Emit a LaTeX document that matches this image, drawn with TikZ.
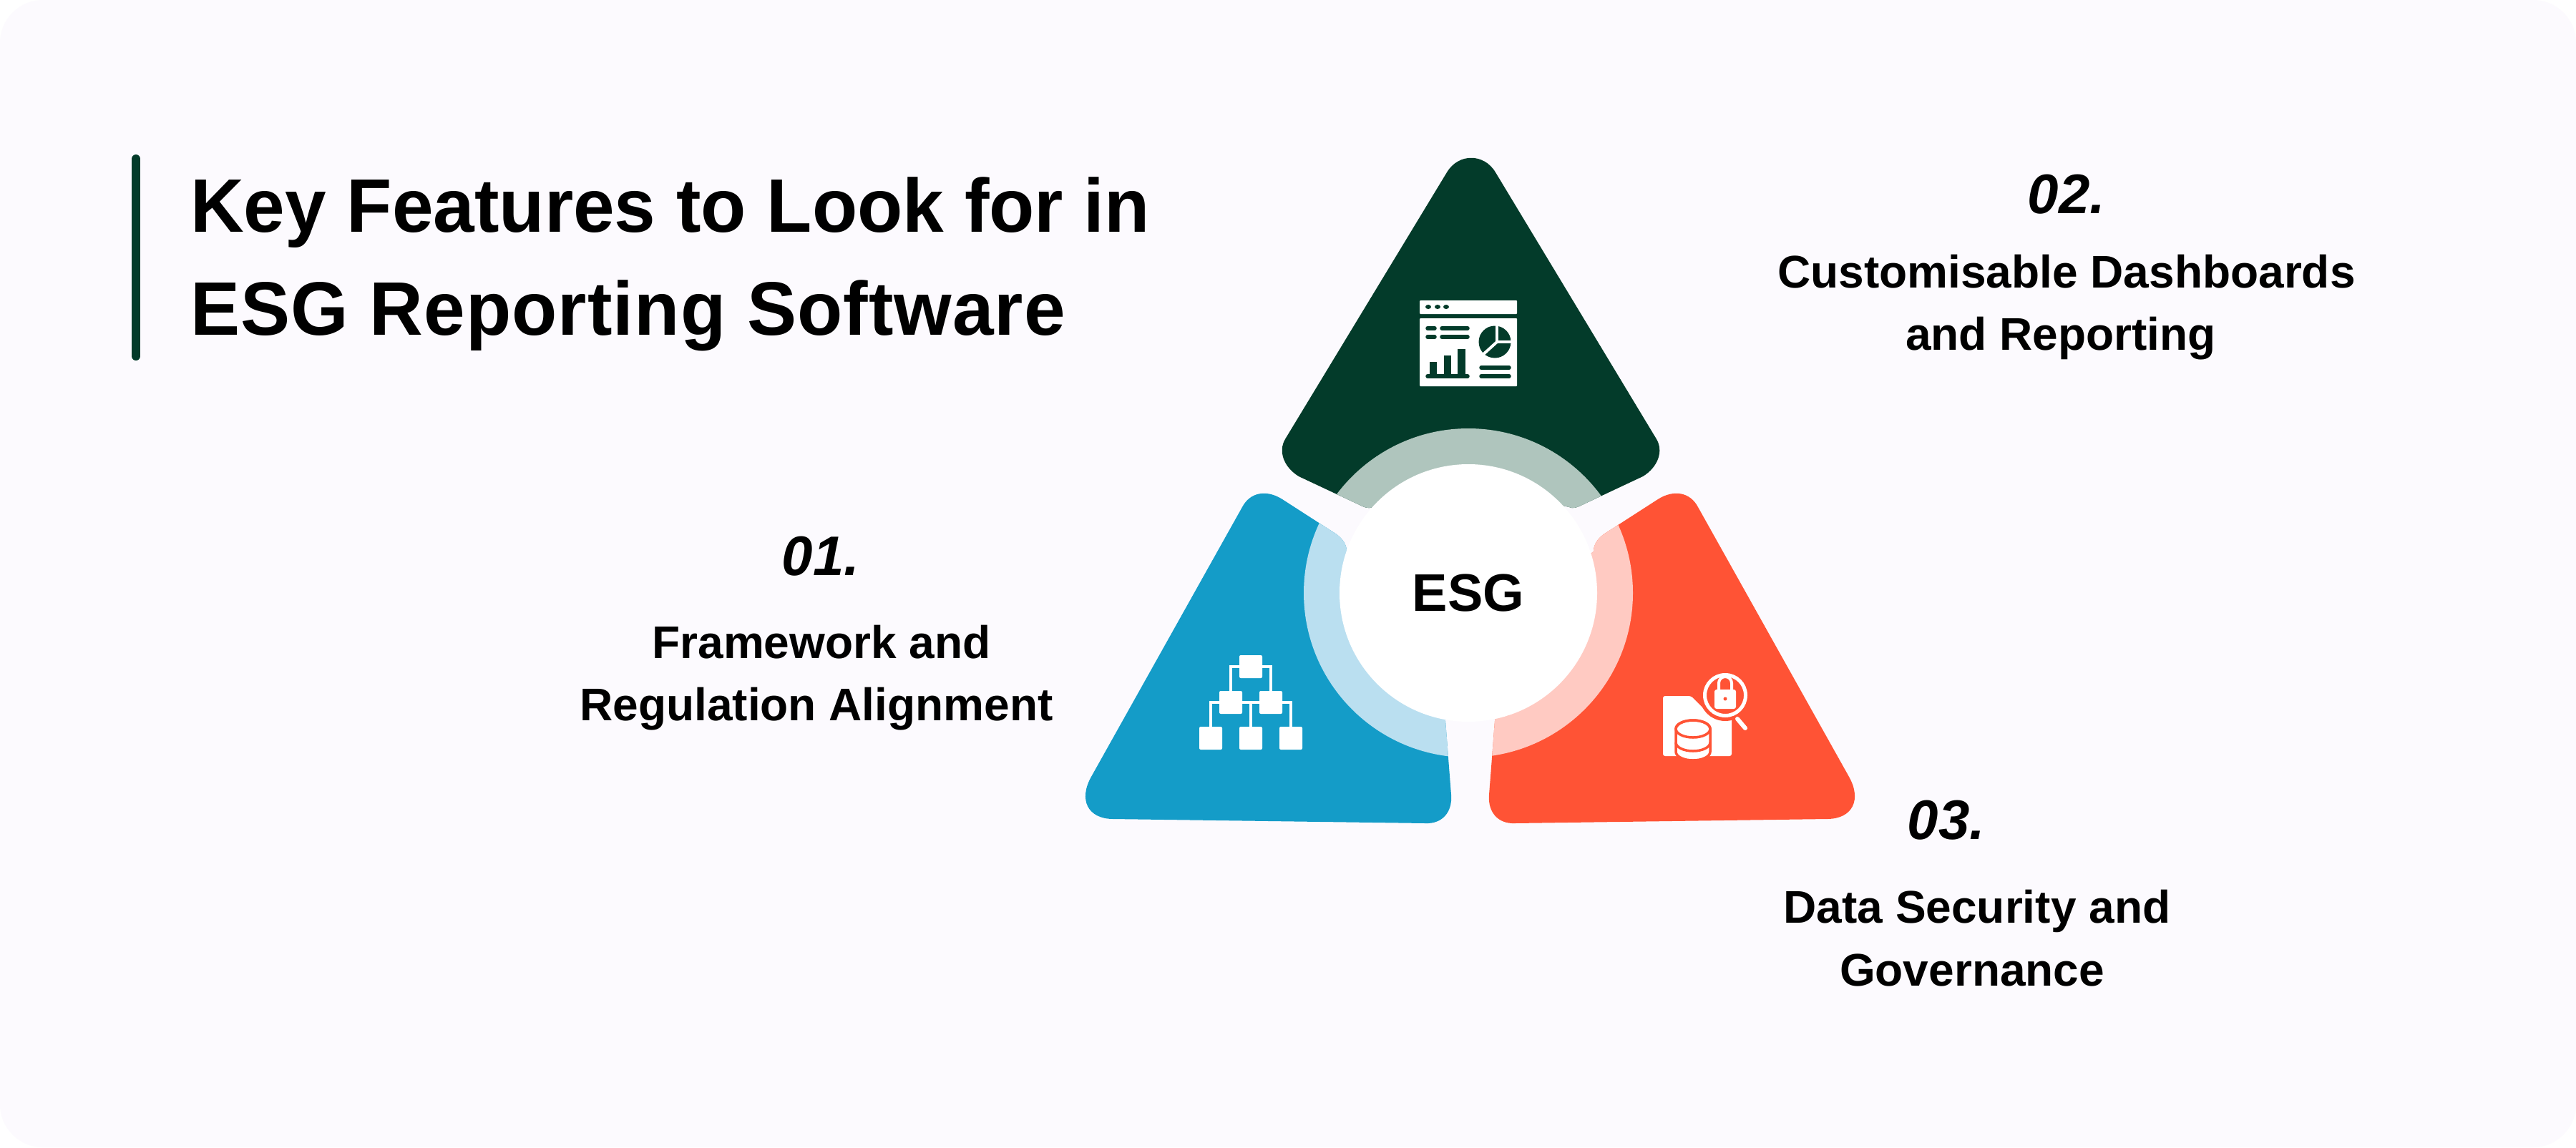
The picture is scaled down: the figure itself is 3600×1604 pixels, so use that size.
\documentclass[tikz,border=0pt]{standalone}
\usepackage{fontspec}
\setmainfont{Liberation Sans}
\newfontfamily\headfont[FakeStretch=0.977]{Liberation Sans}
\definecolor{pagebg}{HTML}{FCFAFE}
\definecolor{esggreen}{HTML}{033B2A}
\definecolor{esgblue}{HTML}{149CC8}
\definecolor{esgred}{HTML}{FF5335}
\definecolor{ringgreen}{HTML}{AFC5BD}
\definecolor{ringblue}{HTML}{BADFF0}
\definecolor{ringred}{HTML}{FFCAC2}
\def\greenpath{(2022,241) .. controls (2038,214) and (2074,214) .. (2090,241) -- (2315,614) .. controls (2325,631) and (2317,653) .. (2296,666) -- (2213,705) .. controls (2205,709) and (2198,712) .. (2193,709) -- (2155,700) -- (1950,700) -- (1918,709) .. controls (1913,712) and (1906,709) .. (1898,705) -- (1815,666) .. controls (1794,653) and (1786,631) .. (1796,614) -- cycle}
\def\bluepath{(1736,709) .. controls (1747,688) and (1770,684) .. (1792,698) -- (1868,747) .. controls (1876,753) and (1882,761) .. (1882,771) -- (1920,800) -- (2000,1000) -- (2016,1003) .. controls (2019,1004) and (2020,1005) .. (2020,1008) -- (2028,1111) .. controls (2030,1136) and (2015,1152) .. (1992,1151) -- (1555,1145) .. controls (1520,1144.5) and (1507,1118) .. (1525,1086) -- cycle}
\def\redpath{(2373,709) .. controls (2362,688) and (2339,684) .. (2317,698) -- (2241,747) .. controls (2233,753) and (2227,761) .. (2227,771) -- (2189,800) -- (2109,1000) -- (2093,1003) .. controls (2090,1004) and (2089,1005) .. (2089,1008) -- (2081,1111) .. controls (2079,1136) and (2094,1152) .. (2117,1151) -- (2554,1145) .. controls (2589,1144.5) and (2602,1118) .. (2584,1086) -- cycle}
\tikzset{
  titletext/.style={anchor=base west,inner sep=0pt,font=\headfont\bfseries\fontsize{106}{144}\selectfont,align=left},
  featurenum/.style={anchor=base,inner sep=0pt,font=\bfseries\itshape\fontsize{78}{90}\selectfont},
  featuretext/.style={anchor=base,inner sep=0pt,font=\bfseries\fontsize{64}{87}\selectfont,align=center},
  iconline/.style={line width=5.5pt,line cap=round,esggreen},
  orgbox/.style={fill=white,rounded corners=2pt},
  orgline/.style={draw=white,line width=4pt},
}
\begin{document}
\begin{tikzpicture}[x=1pt,y=-1pt]
\useasboundingbox (0,0) rectangle (3600,1604);
\fill[white] (0,0) rectangle (3600,1604);
\fill[pagebg,rounded corners=60pt] (0,0) rectangle (3600,1604);
% heading
\draw[esggreen,line width=12pt,line cap=round] (190,222) -- (190,498);
\node[titletext] (heading) at (266,468) {Key Features to Look for in\\{\addfontfeature{LetterSpace=1}ESG Reporting Software}};
% three segments
\fill[esggreen] \greenpath;
\begin{scope}
\clip \greenpath;
\fill[ringgreen] (2052,829) circle[radius=230pt];
\end{scope}
\fill[esgblue] \bluepath;
\begin{scope}
\clip \bluepath;
\fill[ringblue] (2052,829) circle[radius=230pt];
\end{scope}
\fill[esgred] \redpath;
\begin{scope}
\clip \redpath;
\fill[ringred] (2052,829) circle[radius=230pt];
\end{scope}
\node[circle,fill=white,inner sep=0pt,minimum size=360pt,font=\bfseries\fontsize{74}{80}\selectfont] (esg) at (2052,829) {ESG};
% dashboard icon
\fill[white,rounded corners=1pt] (1984,420) rectangle (2120,439);
\fill[white,rounded corners=1pt] (1984,445) rectangle (2120,540);
\foreach \x in {1996,2009,2021}
  \fill[esggreen] (\x,429) ellipse[x radius=4pt,y radius=3pt];
\foreach \y in {459,471} {
  \draw[iconline] (1995,\y) -- (2005,\y);
  \draw[iconline] (2015,\y) -- (2051,\y);
}
\draw[iconline] (1995,526) -- (2051,526);
\fill[esggreen] (1998,506) rectangle (2008,526);
\fill[esggreen] (2018,497) rectangle (2028,526);
\fill[esggreen] (2037,488) rectangle (2048,526);
\draw[iconline] (2070,514) -- (2109,514);
\draw[iconline] (2070,526) -- (2109,526);
\fill[esggreen] (2089,478) circle[radius=22.5pt];
\draw[white,line width=4pt] (2092,452) -- (2092,478) -- (2116,478);
\draw[white,line width=4pt] (2092,478) -- (2070,498);
% hierarchy icon
\draw[orgline] (1720,966) -- (1720,932) -- (1776,932) -- (1776,966);
\draw[orgline] (1692,1016) -- (1692,982) -- (1804,982) -- (1804,1016);
\draw[orgline] (1748,982) -- (1748,1016);
\foreach \x/\y in {1732/916,1704/966,1760/966,1676/1016,1732/1016,1788/1016}
  \fill[orgbox] (\x,\y) rectangle ++(32,32);
% data security icon
\fill[white,rounded corners=3pt] (2324,973) -- (2363,973) -- (2385,995) -- (2420,995) -- (2420,1057) -- (2324,1057) -- cycle;
\fill[esgred] (2411,972) circle[radius=36pt];
\draw[white,line width=5pt] (2411,972) circle[radius=28.5pt];
\draw[white,line width=6pt,line cap=round] (2428,1005) -- (2439,1018);
\draw[white,line width=4pt] (2402,966) -- (2402,955) arc[start angle=180,end angle=0,radius=9pt] -- (2420,966);
\fill[white,rounded corners=3pt] (2396,964) rectangle (2426,991);
\fill[esgred] (2411,977) circle[radius=2.5pt];
\draw[esgred,fill=white,line width=3.5pt] (2342,1019) -- (2342,1051) arc[start angle=180,end angle=360,x radius=24pt,y radius=12pt] -- (2390,1019) arc[start angle=0,end angle=180,x radius=24pt,y radius=12pt] -- cycle;
\draw[esgred,line width=3.5pt] (2366,1019) ellipse[x radius=24pt,y radius=12pt];
\draw[esgred,line width=3.5pt] (2342,1038) arc[start angle=180,end angle=360,x radius=24pt,y radius=12pt];
% labels
\node[featurenum] (num1) at (1147,804) {01.};
\node[featuretext] (text1a) at (1148,920) {Framework and};
\node[featuretext] (text1b) at (1141,1007) {Regulation Alignment};
\node[featurenum] (num2) at (2888,298) {02.};
\node[featuretext] (text2a) at (2888,402) {Customisable Dashboards};
\node[featuretext] (text2b) at (2880,489) {and Reporting};
\node[featurenum] (num3) at (2720,1173) {03.};
\node[featuretext] (text3a) at (2763,1290) {Data Security and};
\node[featuretext] (text3b) at (2756,1378) {Governance};
\end{tikzpicture}
\end{document}
